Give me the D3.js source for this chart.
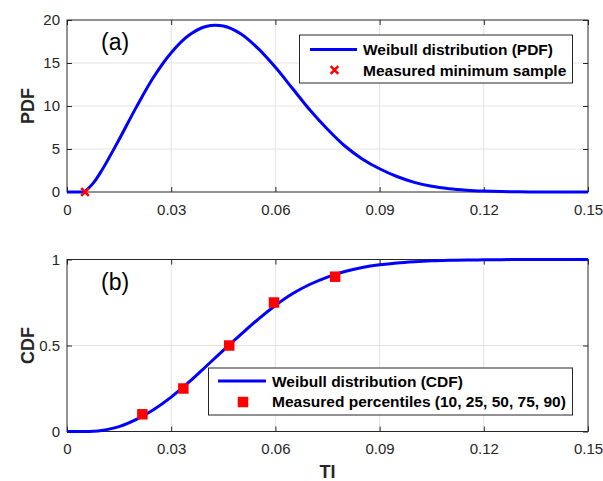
<!DOCTYPE html>
<html>
<head>
<meta charset="utf-8">
<script src="https://cdn.jsdelivr.net/npm/d3@7"></script>
<style>
  html, body { margin: 0; padding: 0; background: #fff; }
  svg { display: block; font-family: "Liberation Sans", Arial, Helvetica, sans-serif; }
</style>
</head>
<body>
<svg id="chart" width="603" height="481"></svg>
<script>
// values
const tiGrid = [0, 0.005, 0.0075, 0.010, 0.015, 0.020, 0.025, 0.030, 0.035, 0.040, 0.045,
  0.050, 0.055, 0.060, 0.065, 0.070, 0.075, 0.080, 0.085, 0.090, 0.095,
  0.100, 0.105, 0.110, 0.115, 0.120, 0.125, 0.130, 0.135, 0.140, 0.145, 0.150];

const pdfValues = [0, 0, 1.0, 2.5, 6.1, 9.9, 13.4, 16.2, 18.2, 19.25, 19.3,
  18.4, 16.7, 14.5, 12.0, 9.5, 7.3, 5.35, 3.85, 2.7, 1.8,
  1.12, 0.66, 0.38, 0.21, 0.11, 0.05, 0.02, 0.01, 0, 0, 0];

const cdfValues = [0, 0, 0.0013, 0.006, 0.028, 0.07, 0.128, 0.2, 0.285, 0.378, 0.472,
  0.563, 0.652, 0.733, 0.802, 0.856, 0.898, 0.93, 0.953, 0.969, 0.98,
  0.987, 0.992, 0.995, 0.997, 0.998, 0.999, 0.9995, 1, 1, 1, 1];

const minSampleTI = [0.0052];
const minSampleValue = [0];

const pctTI = [0.0217, 0.0335, 0.0467, 0.0596, 0.0772];
const pctCDF = [0.10, 0.25, 0.50, 0.75, 0.90];

const xTicks = [0, 0.03, 0.06, 0.09, 0.12, 0.15];
const pdfTicks = [0, 5, 10, 15, 20];
const cdfTicks = [0, 0.5, 1];

const textColor = '#262626';
const gridColor = '#e3e3e3';
const lineBlue = '#0000ff';
const markRed = '#ff0000';

const svg = d3.select('#chart');
svg.append('rect').attr('width', 603).attr('height', 481).attr('fill', '#fff');

const left = 67, right = 588;
const x = d3.scaleLinear().domain([0, 0.15]).range([left, right]);

const fmt = d3.format('~g');

function drawPanel(cfg) {
  const y = d3.scaleLinear().domain(cfg.yDomain).range([cfg.bottom, cfg.top]);
  const g = svg.append('g');

  // grid
  g.append('g').selectAll('line')
    .data(xTicks.slice(1, -1))
    .join('line')
    .attr('x1', d => x(d)).attr('x2', d => x(d))
    .attr('y1', cfg.top).attr('y2', cfg.bottom)
    .attr('stroke', gridColor).attr('stroke-width', 1);
  g.append('g').selectAll('line')
    .data(cfg.yTicks.slice(1, -1))
    .join('line')
    .attr('x1', left).attr('x2', right)
    .attr('y1', d => y(d)).attr('y2', d => y(d))
    .attr('stroke', gridColor).attr('stroke-width', 1);

  // axes, ticks pointing inwards like matlab
  const ax = g.append('g').attr('transform', `translate(0,${cfg.bottom})`)
    .call(d3.axisBottom(x).tickValues(xTicks).tickSize(-5).tickPadding(12).tickFormat(fmt));
  const axTop = g.append('g').attr('transform', `translate(0,${cfg.top})`)
    .call(d3.axisTop(x).tickValues(xTicks).tickSize(-5).tickFormat(''));
  const ay = g.append('g').attr('transform', `translate(${left},0)`)
    .call(d3.axisLeft(y).tickValues(cfg.yTicks).tickSize(-5).tickPadding(7).tickFormat(fmt));
  const ayR = g.append('g').attr('transform', `translate(${right},0)`)
    .call(d3.axisRight(y).tickValues(cfg.yTicks).tickSize(-5).tickFormat(''));

  [ax, axTop, ay, ayR].forEach(a => {
    a.select('.domain').remove();
    a.selectAll('.tick line').attr('stroke', textColor).attr('stroke-width', 1);
    a.selectAll('.tick text')
      .attr('fill', textColor)
      .style('font-size', '15px')
      .style('font-family', '"Liberation Sans", Arial, Helvetica, sans-serif');
  });

  g.append('rect')
    .attr('x', left).attr('y', cfg.top)
    .attr('width', right - left).attr('height', cfg.bottom - cfg.top)
    .attr('fill', 'none').attr('stroke', textColor).attr('stroke-width', 1);

  // curve: flat start drawn straight, the rest smooth through the read points
  const pts = cfg.values.map((v, i) => [x(tiGrid[i]), y(v)]);
  const flat = d3.line().curve(d3.curveLinear);
  const smooth = d3.line().curve(d3.curveCatmullRom.alpha(0.5));
  g.append('path')
    .attr('d', flat(pts.slice(0, 2)) + smooth(pts.slice(1)))
    .attr('fill', 'none')
    .attr('stroke', lineBlue)
    .attr('stroke-width', 3)
    .attr('stroke-linejoin', 'round');

  // y label
  g.append('text')
    .attr('transform', `translate(${cfg.labelX},${(cfg.top + cfg.bottom) / 2}) rotate(-90)`)
    .attr('text-anchor', 'middle')
    .attr('dy', '0.35em')
    .attr('fill', textColor)
    .style('font-size', '18px')
    .style('font-weight', 'bold')
    .text(cfg.yLabel);

  // panel tag
  g.append('text')
    .attr('x', 101).attr('y', cfg.top + 30)
    .attr('fill', '#000')
    .style('font-size', '23px')
    .text(cfg.tag);

  return { g, y };
}

function xMark(sel, cx, cy, r) {
  sel.append('path')
    .attr('d', `M${cx - r},${cy - r}L${cx + r},${cy + r}M${cx - r},${cy + r}L${cx + r},${cy - r}`)
    .attr('stroke', markRed)
    .attr('stroke-width', 2.6)
    .attr('fill', 'none');
}

// (a) PDF
const panelA = drawPanel({
  top: 20, bottom: 192, yDomain: [0, 20], yTicks: pdfTicks,
  values: pdfValues, yLabel: 'PDF', labelX: 28, tag: '(a)'
});
minSampleTI.forEach((t, i) => xMark(panelA.g, x(t), panelA.y(minSampleValue[i]), 3.8));

// legend (a)
const legA = panelA.g.append('g');
legA.append('rect').attr('x', 299.5).attr('y', 35).attr('width', 273).attr('height', 48)
  .attr('fill', '#fff').attr('stroke', textColor).attr('stroke-width', 1);
legA.append('line').attr('x1', 310).attr('x2', 357).attr('y1', 49.5).attr('y2', 49.5)
  .attr('stroke', lineBlue).attr('stroke-width', 3);
xMark(legA, 334.5, 70, 3.8);
legA.selectAll('text')
  .data(['Weibull distribution (PDF)', 'Measured minimum sample'])
  .join('text')
  .attr('x', 363)
  .attr('y', (d, i) => 55 + i * 20.5)
  .attr('fill', '#000')
  .style('font-size', '15.5px')
  .style('font-weight', 'bold')
  .text(d => d);

// (b) CDF
const panelB = drawPanel({
  top: 259.5, bottom: 431.5, yDomain: [0, 1], yTicks: cdfTicks,
  values: cdfValues, yLabel: 'CDF', labelX: 28, tag: '(b)'
});

const sq = d3.symbol(d3.symbolSquare, 110);
panelB.g.selectAll('path.pct')
  .data(pctTI)
  .join('path')
  .attr('class', 'pct')
  .attr('d', sq)
  .attr('transform', (d, i) => `translate(${x(d)},${panelB.y(pctCDF[i])})`)
  .attr('fill', markRed);

// legend (b)
const legB = panelB.g.append('g');
legB.append('rect').attr('x', 208.5).attr('y', 368).attr('width', 364).attr('height', 47)
  .attr('fill', '#fff').attr('stroke', textColor).attr('stroke-width', 1);
legB.append('line').attr('x1', 218).attr('x2', 266).attr('y1', 381).attr('y2', 381)
  .attr('stroke', lineBlue).attr('stroke-width', 3);
legB.append('path').attr('d', sq).attr('transform', 'translate(243,402)').attr('fill', markRed);
legB.selectAll('text')
  .data(['Weibull distribution (CDF)', 'Measured percentiles (10, 25, 50, 75, 90)'])
  .join('text')
  .attr('x', 272)
  .attr('y', (d, i) => 386.5 + i * 20.5)
  .attr('fill', '#000')
  .style('font-size', '15.5px')
  .style('font-weight', 'bold')
  .text(d => d);

// x label
svg.append('text')
  .attr('x', (left + right) / 2).attr('y', 478)
  .attr('text-anchor', 'middle')
  .attr('fill', textColor)
  .style('font-size', '18px')
  .style('font-weight', 'bold')
  .text('TI');
</script>
</body>
</html>
